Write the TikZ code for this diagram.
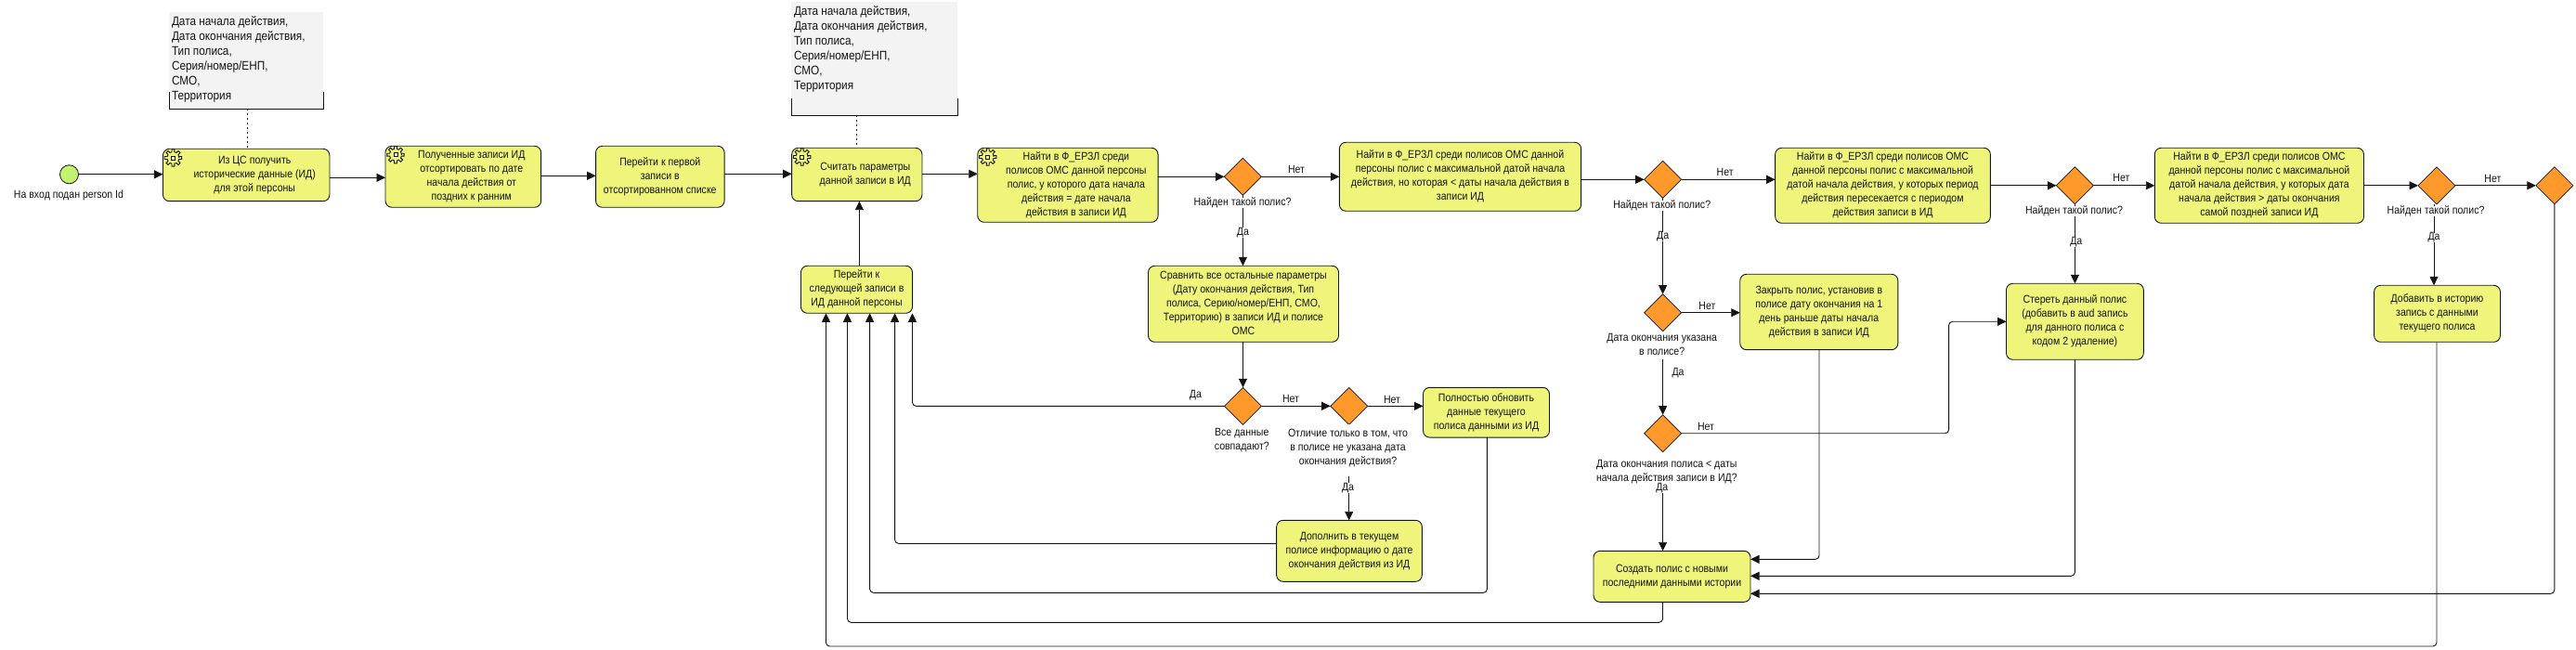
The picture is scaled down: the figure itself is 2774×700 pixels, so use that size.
\documentclass[tikz,border=0pt]{standalone}
\usepackage{fontspec}
\setmainfont{Liberation Sans}[FakeStretch=0.88]
\usetikzlibrary{shapes.geometric,arrows.meta,calc}
\definecolor{taskfill}{RGB}{238,245,122}
\definecolor{gatefill}{RGB}{255,153,44}
\definecolor{startfill}{RGB}{195,242,110}
\definecolor{notefill}{RGB}{243,243,243}
\definecolor{ink}{RGB}{20,20,20}
\newcommand{\ml}[1]{\begin{tabular}{@{}c@{}}#1\end{tabular}}
\newcommand{\gl}[1]{\hspace*{18pt}\begin{tabular}{@{}c@{}}#1\end{tabular}}
\newcommand{\nl}[3]{\parbox[c][#1][t]{#2}{\raggedright\vspace*{3.5pt}\strut #3}}
\tikzset{
  x=1pt,y=-1pt,
  basefont/.style={font=\fontsize{12}{15}\selectfont},
  task/.style={draw=ink,line width=.9pt,fill=taskfill,rounded corners=7pt,inner sep=0pt,outer sep=0pt,basefont,text=ink},
  gate/.style={diamond,draw=ink,line width=.7pt,fill=gatefill,minimum width=40pt,minimum height=40pt,inner sep=0pt,outer sep=0pt},
  startev/.style={circle,draw=ink,line width=.8pt,fill=startfill,minimum size=20pt,inner sep=0pt,outer sep=0pt},
  lab/.style={basefont,inner sep=0pt,fill=white,text=ink},
  note/.style={fill=notefill,inner sep=0pt,outer sep=0pt,font=\fontsize{13.4}{16}\selectfont,text=ink},
  flow/.style={draw=ink,line width=.9pt,-{Triangle[length=9.5pt,width=9pt]},rounded corners=4pt},
  plain/.style={draw=ink,line width=.9pt},
  assoc/.style={draw=ink,line width=.8pt,dash pattern=on 2pt off 3pt},
  gearicon/.pic={
    \draw[ink,line width=.9pt,fill=none] (0:6.5)
      \foreach \a in {0,45,...,315}{ -- (\a-13:6.5) -- (\a-9:9.3) -- (\a+9:9.3) -- (\a+13:6.5)} -- cycle;
    \draw[ink,line width=.9pt] (-2,-2) rectangle (2,2);
  }
}
\begin{document}
\begin{tikzpicture}
\useasboundingbox (0,0) rectangle (2774,700);
% notes
\node[note,minimum width=166pt,minimum height=104.6pt] (n1) at (265,65) {\nl{104.6pt}{160pt}{Дата начала действия,\\Дата окончания действия,\\Тип полиса,\\Серия/номер/ЕНП,\\СМО,\\Территория}};
\node[note,minimum width=179pt,minimum height=122.3pt] (n2) at (941.5,63.2) {\nl{122.3pt}{173pt}{Дата начала действия,\\Дата окончания действия,\\Тип полиса,\\Серия/номер/ЕНП,\\СМО,\\Территория}};
\draw[plain] ($(n1.south west)+(0,-18)$) -- (n1.south west) -- (n1.south east) -- ($(n1.south east)+(0,-18)$);
\draw[plain] ($(n2.south west)+(0,-18)$) -- (n2.south west) -- (n2.south east) -- ($(n2.south east)+(0,-18)$);
% tasks
\node[startev] (start) at (74.5,187.8) {};
\node[task,minimum width=179.5pt,minimum height=56.4pt] (t1) at (265.2,188.5) {\gl{Из ЦС получить\\исторические данные (ИД)\\для этой персоны}};
\node[task,minimum width=167.6pt,minimum height=66pt] (t2) at (498.8,190.3) {\gl{Полученные записи ИД\\отсортировать по дате\\начала действия от\\поздних к ранним}};
\node[task,minimum width=138.5pt,minimum height=66pt] (t3) at (710.8,190.3) {\ml{Перейти к первой\\записи в\\отсортированном списке}};
\node[task,minimum width=140.3pt,minimum height=57.4pt] (t4) at (922.8,188) {\gl{Считать параметры\\данной записи в ИД}};
\node[task,minimum width=194.3pt,minimum height=80pt] (t5) at (1149.9,199.3) {\gl{Найти в Ф\_ЕРЗЛ среди\\полисов ОМС данной персоны\\полис, у которого дата начала\\действия = дате начала\\действия в записи ИД}};
\node[task,minimum width=260.3pt,minimum height=74pt] (t6) at (1572.5,190.3) {\ml{Найти в Ф\_ЕРЗЛ среди полисов ОМС данной\\персоны полис с максимальной датой начала\\действия, но которая < даты начала действия в\\записи ИД}};
\node[task,minimum width=120.1pt,minimum height=51pt] (t7) at (922.5,311.8) {\ml{Перейти к\\следующей записи в\\ИД данной персоны}};
\node[task,minimum width=205pt,minimum height=82pt] (t14) at (1339,327.3) {\ml{Сравнить все остальные параметры\\(Дату окончания действия, Тип\\полиса, Серию/номер/ЕНП, СМО,\\Территорию) в записи ИД и полисе\\ОМС}};
\node[task,minimum width=231.7pt,minimum height=81pt] (t8) at (2027.5,199.8) {\ml{Найти в Ф\_ЕРЗЛ среди полисов ОМС\\данной персоны полис с максимальной\\датой начала действия, у которых период\\действия пересекается с периодом\\действия записи в ИД}};
\node[task,minimum width=225.2pt,minimum height=81pt] (t9) at (2432.9,199.8) {\ml{Найти в Ф\_ЕРЗЛ среди полисов ОМС\\данной персоны полис с максимальной\\датой начала действия, у которых дата\\начала действия > даты окончания\\самой поздней записи ИД}};
\node[task,minimum width=135.9pt,minimum height=61pt] (t10) at (2624.5,337.8) {\ml{Добавить в историю\\запись с данными\\текущего полиса}};
\node[task,minimum width=147.8pt,minimum height=82pt] (t11) at (2234.4,346.3) {\ml{Стереть данный полис\\(добавить в aud запись\\для данного полиса с\\кодом 2 удаление)}};
\node[task,minimum width=170.1pt,minimum height=81.4pt] (t12) at (1958.8,336) {\ml{Закрыть полис, установив в\\полисе дату окончания на 1\\день раньше даты начала\\действия в записи ИД}};
\node[task,minimum width=169pt,minimum height=55pt] (t13) at (1800.5,620.8) {\ml{Создать полис с новыми\\последними данными истории}};
\node[task,minimum width=136pt,minimum height=53.7pt] (t15) at (1600.5,444.2) {\ml{Полностью обновить\\данные текущего\\полиса данными из ИД}};
\node[task,minimum width=156.7pt,minimum height=66pt] (t16) at (1453,593.3) {\ml{Дополнить в текущем\\полисе информацию о дате\\окончания действия из ИД}};
% gears
\foreach \n/\dy in {t1/9.7,t2/9.4,t4/9.7,t5/9.7}{
  \pic at ($(\n.north west)+(11,\dy)$) {gearicon};
}
% gateways
\node[gate] (d1) at (1338.4,190.3) {};
\node[gate] (d2) at (1790.6,193.3) {};
\node[gate] (d3) at (2234.4,199.8) {};
\node[gate] (d4) at (2624,199.8) {};
\node[gate] (d5) at (2750.8,199.8) {};
\node[gate] (d6) at (1790.6,336.7) {};
\node[gate] (d7) at (1790.6,466.7) {};
\node[gate] (d8) at (1338.5,437.3) {};
\node[gate] (d9) at (1452.7,437.3) {};
% associations
\draw[assoc] (266.5,0 |- n1.south) -- (266.5,0 |- t1.north);
\draw[assoc] (922,0 |- n2.south) -- (922,0 |- t4.north);
% flows
\draw[flow] (start.east) -- (t1.west |- start.east);
\draw[flow] (t1.east |- 0,191.3) -- (t2.west |- 0,191.3);
\draw[flow] (t2.east |- 0,189.3) -- (t3.west |- 0,189.3);
\draw[flow] (t3.east |- 0,187.3) -- (t4.west |- 0,187.3);
\draw[flow] (t4.east |- 0,187.3) -- (t5.west |- 0,187.3);
\draw[flow] (t5.east |- d1.west) -- (d1.west);
\draw[flow] (d1.east) -- (t6.west |- d1.east);
\draw[flow] (t6.east |- d2.west) -- (d2.west);
\draw[flow] (d2.east) -- (t8.west |- d2.east);
\draw[flow] (t8.east |- d3.west) -- (d3.west);
\draw[flow] (d3.east) -- (t9.west |- d3.east);
\draw[flow] (t9.east |- d4.west) -- (d4.west);
\draw[flow] (d4.east) -- (d5.west);
\draw[flow] (925.4,0 |- t7.north) -- (925.4,0 |- t4.south);
\draw[flow] (d1.south) -- (d1.south |- t14.north);
\draw[flow] (t14.south -| d8.north) -- (d8.north);
\draw[flow] (d8.east) -- (d9.west);
\draw[flow] (d9.east) -- (t15.west |- d9.east);
\draw[flow] (d9.south) -- (d9.south |- t16.north);
\draw[flow] (d2.south) -- (d6.north);
\draw[flow] (d6.east) -- (t12.west |- d6.east);
\draw[flow] (d6.south) -- (d7.north);
\draw[flow] (d7.south) -- (d7.south |- t13.north);
\draw[flow] (d7.east) -- (2098.6,0 |- d7.east) -- (2098.6,0 |- t11.west) -- (t11.west);
\draw[flow] (d3.south) -- (d3.south |- t11.north);
\draw[flow] (2621,0 |- d4.south) -- (2621,0 |- t10.north);
\draw[flow] (1959,0 |- t12.south) -- (1959,602.3) -- (t13.east |- 0,602.3);
\draw[flow] (t11.south) -- (2234.4,620.3) -- (t13.east |- 0,620.3);
\draw[flow] (d5.south) -- (2750.8,639.3) -- (t13.east |- 0,639.3);
\draw[flow] (d8.west) -- (982.5,0 |- d8.west) -- (982.5,0 |- t7.south);
\draw[flow] (t16.west |- 0,585.3) -- (963.6,585.3) -- (963.6,0 |- t7.south);
\draw[flow] (1601.4,0 |- t15.south) -- (1601.4,638.3) -- (936.6,638.3) -- (936.6,0 |- t7.south);
\draw[flow] (1790.5,0 |- t13.south) -- (1790.5,670.3) -- (912.5,670.3) -- (912.5,0 |- t7.south);
\draw[flow] (2624,0 |- t10.south) -- (2624,696) -- (889.5,696) -- (889.5,0 |- t7.south);
% labels
\node[lab] (l0) at (74,210) {На вход подан person Id};
\node[lab] (l1) at (1338,218.3) {Найден такой полис?};
\node[lab] (l2) at (1789.7,221.3) {Найден такой полис?};
\node[lab] (l3) at (2233.5,227.3) {Найден такой полис?};
\node[lab] (l4) at (2623,227.3) {Найден такой полис?};
\node[lab] (l6) at (1789.7,371.8) {\ml{Дата окончания указана\\в полисе?}};
\node[lab,inner ysep=6pt] (l7) at (1794.8,507.5) {\ml{Дата окончания полиса < даты\\начала действия записи в ИД?}};
\node[lab] (l8) at (1337.3,474) {\ml{Все данные\\совпадают?}};
\node[lab,inner ysep=3pt,anchor=north] (l9) at (1451.5,457.2) {\ml{Отличие только в том, что\\в полисе не указана дата\\окончания действия?\\[5pt]}};
\node[lab] (y1) at (1338.4,250.3) {Да};
\node[lab] (y2) at (1790.6,255) {Да};
\node[lab] (y3) at (2235.8,260.3) {Да};
\node[lab] (y4) at (2621,256) {Да};
\node[lab] (y6) at (1807,401.7) {Да};
\node[lab] (y7) at (1789.8,525.7) {Да};
\node[lab] (y8) at (1287.4,425.7) {Да};
\node[lab] (y9) at (1451.5,525.3) {Да};
\node[lab,fill=none] (x1) at (1396,182.5) {Нет};
\node[lab,fill=none] (x2) at (1857.6,185.3) {Нет};
\node[lab,fill=none] (x3) at (2284.4,191) {Нет};
\node[lab,fill=none] (x4) at (2684.4,192.3) {Нет};
\node[lab,fill=none] (x6) at (1838.4,329.3) {Нет};
\node[lab,fill=none] (x7) at (1837,459.3) {Нет};
\node[lab,fill=none] (x8) at (1390,429.3) {Нет};
\node[lab,fill=none] (x9) at (1499,430) {Нет};
\end{tikzpicture}
\end{document}
